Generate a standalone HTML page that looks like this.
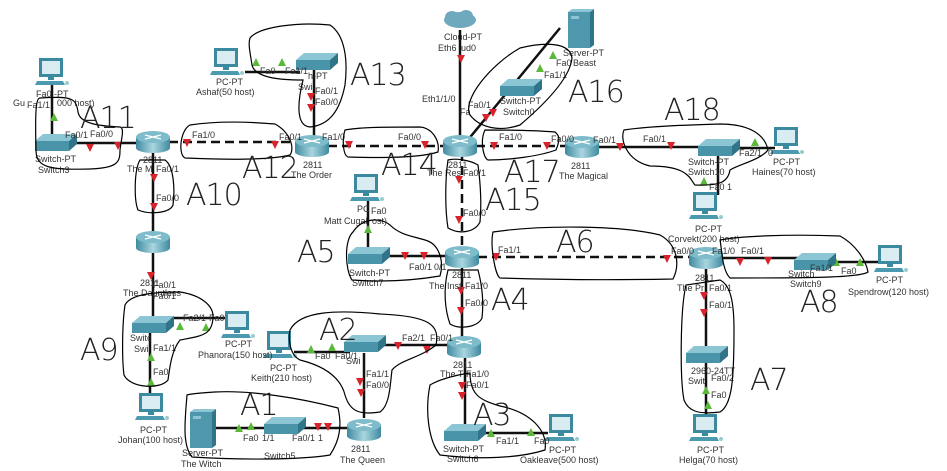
<!DOCTYPE html>
<html><head><meta charset="utf-8"><style>
html,body{margin:0;padding:0;background:#fff;}
svg{display:block}
text{font-family:"Liberation Sans",sans-serif;font-size:9px;fill:#333}
.a{font-size:30px;fill:#000;font-weight:200;font-family:"DejaVu Sans","Liberation Sans",sans-serif;letter-spacing:-1px}
.l{stroke:#111;stroke-width:2.5;fill:none}
.d{stroke:#111;stroke-width:2.5;fill:none;stroke-dasharray:9,5}
.h{stroke:#000;stroke-width:1.2;fill:none}
</style></head><body>
<svg width="947" height="471" viewBox="0 0 947 471" xmlns="http://www.w3.org/2000/svg">
<defs>
<linearGradient id="rg" x1="0" x2="1"><stop offset="0" stop-color="#3f8aa0"/><stop offset=".5" stop-color="#a9d6e0"/><stop offset="1" stop-color="#3f8aa0"/></linearGradient>
<g id="rt">
<rect x="-17" y="-5" width="34" height="11" fill="url(#rg)"/>
<ellipse cx="0" cy="6" rx="17" ry="5" fill="url(#rg)"/>
<ellipse cx="0" cy="-5" rx="17" ry="6" fill="#7fbccb"/>
<path d="M-8,-7 L8,-3 M8,-7 L-8,-3" stroke="#fff" stroke-width="1.3"/>
</g>
<g id="sw">
<polygon points="-20,-2 -12,-9 22,-9 14,-2" fill="#8cc6d4"/>
<rect x="-20" y="-2" width="34" height="10" fill="#4a94aa"/>
<polygon points="14,-2 22,-9 22,1 14,8" fill="#2f7489"/>
</g>
<g id="pc">
<rect x="-13" y="-14" width="24" height="19" fill="#3c8aa0"/>
<rect x="-10" y="-11" width="18" height="13" fill="#d9ecf2"/>
<rect x="-4" y="5" width="6" height="3" fill="#3c8aa0"/>
<polygon points="-15,9 11,9 13,13 -17,13" fill="#4c9ab0"/>
<circle cx="15" cy="11" r="2" fill="#9cc" />
</g>
<g id="sv">
<rect x="-12" y="-18" width="22" height="36" fill="#4f97ad"/>
<polygon points="10,-18 14,-21 14,15 10,18" fill="#2f7489"/>
<polygon points="-12,-18 -8,-21 14,-21 10,-18" fill="#8cc6d4"/>
<rect x="-9" y="-14" width="8" height="3" fill="#8cc6d4"/>
</g>
<polygon id="rd" points="-4,-4 4,-4 0,4" fill="#d8232a"/>
<polygon id="gu" points="-4,4 4,4 0,-4" fill="#5cb83a"/>
</defs>

<path class="l" d="M53,143 H137 M52,85 V137 M314,62 V140 M245,72 H300 M460,30 V140 M467,141 L560,28 M598,147 H700 M718,148 H775 M718,155 V195 M153,147 V238 M153,248 V320 M150,330 V400 M170,318 H225 M294,352 H350 M380,345 H448 M364,353 V418 M215,428 H268 M300,428 H348 M462,263 V340 M465,353 V430 M480,433 H548 M381,256 H445 M368,247 V200 M706,264 V350 M706,362 V420 M722,258 H800 M826,262 H878"/>
<path class="d" d="M169,142 H296 M328,146 H444 M476,146 H566 M462,152 V252 M478,257 H690"/>

<use href="#rd" x="90" y="148"/><use href="#rd" x="118" y="146"/>
<use href="#gu" x="54" y="117"/>
<use href="#rd" x="187" y="143"/><use href="#rd" x="275" y="145"/>
<use href="#gu" x="256" y="62"/><use href="#gu" x="282" y="62"/>
<use href="#rd" x="311" y="97"/><use href="#rd" x="311" y="108"/>
<use href="#rd" x="349" y="145"/><use href="#rd" x="425" y="145"/>
<use href="#rd" x="461" y="59"/>
<use href="#rd" x="486" y="118"/><use href="#rd" x="493" y="113"/>
<use href="#gu" x="540" y="68"/><use href="#gu" x="553" y="55"/>
<use href="#rd" x="494" y="146"/><use href="#rd" x="547" y="146"/>
<use href="#rd" x="620" y="147"/><use href="#rd" x="671" y="146"/>
<use href="#gu" x="734" y="144"/><use href="#gu" x="755" y="142"/>
<use href="#gu" x="704" y="181"/>
<use href="#rd" x="459" y="180"/><use href="#rd" x="459" y="220"/>
<use href="#rd" x="154" y="178"/><use href="#rd" x="154" y="207"/>
<use href="#rd" x="151" y="276"/>
<use href="#gu" x="180" y="326"/><use href="#gu" x="206" y="327"/>
<use href="#gu" x="151" y="357"/><use href="#gu" x="151" y="382"/>
<use href="#gu" x="311" y="349"/><use href="#gu" x="332" y="347"/>
<use href="#rd" x="398" y="346"/><use href="#rd" x="427" y="350"/>
<use href="#rd" x="360" y="382"/><use href="#rd" x="361" y="393"/>
<use href="#gu" x="239" y="428"/><use href="#gu" x="251" y="426"/>
<use href="#rd" x="318" y="427"/><use href="#rd" x="328" y="427"/>
<use href="#rd" x="461" y="291"/><use href="#rd" x="461" y="311"/>
<use href="#rd" x="462" y="386"/><use href="#rd" x="462" y="396"/>
<use href="#gu" x="491" y="433"/><use href="#gu" x="531" y="432"/>
<use href="#rd" x="405" y="256"/><use href="#rd" x="424" y="256"/>
<use href="#gu" x="368" y="229"/>
<use href="#rd" x="496" y="257"/><use href="#rd" x="667" y="259"/>
<use href="#rd" x="740" y="262"/><use href="#rd" x="768" y="261"/>
<use href="#gu" x="836" y="262"/><use href="#gu" x="860" y="262"/>
<use href="#rd" x="704" y="296"/><use href="#rd" x="704" y="313"/>
<use href="#gu" x="706" y="390"/><use href="#gu" x="708" y="405"/>

<use href="#rt" x="153" y="142"/><use href="#rt" x="312" y="146"/><use href="#rt" x="460" y="146"/>
<use href="#rt" x="582" y="147"/><use href="#rt" x="153" y="242"/><use href="#rt" x="462" y="257"/>
<use href="#rt" x="706" y="258"/><use href="#rt" x="464" y="347"/><use href="#rt" x="364" y="430"/>
<use href="#sw" x="55" y="143"/><use href="#sw" x="316" y="62"/><use href="#sw" x="520" y="88"/>
<use href="#sw" x="718" y="148"/><use href="#sw" x="368" y="256"/><use href="#sw" x="814" y="262"/>
<use href="#sw" x="152" y="325"/><use href="#sw" x="364" y="344"/><use href="#sw" x="284" y="426"/>
<use href="#sw" x="464" y="433"/><use href="#sw" x="706" y="355"/>
<use href="#pc" x="52" y="72"/><use href="#pc" x="227" y="62"/><use href="#pc" x="367" y="188"/>
<use href="#pc" x="787" y="141"/><use href="#pc" x="706" y="206"/><use href="#pc" x="891" y="259"/>
<use href="#pc" x="238" y="325"/><use href="#pc" x="280" y="345"/><use href="#pc" x="152" y="407"/>
<use href="#pc" x="562" y="428"/><use href="#pc" x="706" y="428"/>
<use href="#sv" x="580" y="30"/><use href="#sv" x="202" y="430"/>
<g fill="#6fa9bd"><ellipse cx="460" cy="20" rx="16" ry="8"/><ellipse cx="452" cy="17" rx="7" ry="6"/><ellipse cx="466" cy="16" rx="7" ry="6"/></g>

<text x="36" y="97">Fa0 -PT</text><text x="13" y="106">Gu</text><text x="27" y="108">Fa1/1</text><text x="57" y="106">000 host)</text>
<text x="65" y="138">Fa0/1</text><text x="90" y="137">Fa0/0</text>
<text x="35" y="162">Switch-PT</text><text x="38" y="173">Switch3</text>
<text x="143" y="163">2811</text><text x="127" y="172">The M</text><text x="156" y="172">Fa0/1</text>
<text x="156" y="201">Fa0/0</text>
<text x="192" y="138">Fa1/0</text><text x="279" y="140">Fa0/1</text>
<text x="216" y="85">PC-PT</text><text x="196" y="95">Ashaf(50 host)</text>
<text x="260" y="74">Fa0</text><text x="285" y="74">Fa1/1</text><text x="308" y="79">h-PT</text>
<text x="298" y="90">Swi</text><text x="315" y="94">Fa0/1</text><text x="315" y="105">Fa0/0</text>
<text x="322" y="140">Fa1/0</text><text x="303" y="168">2811</text><text x="291" y="178">The Order</text>
<text x="398" y="140">Fa0/0</text>
<text x="444" y="40">Cloud-PT</text><text x="438" y="51">Eth6</text><text x="461" y="51">ud0</text>
<text x="422" y="102">Eth1/1/0</text><text x="468" y="108">Fa0/1</text><text x="460" y="115">Fa</text>
<text x="500" y="104">Switch-PT</text><text x="503" y="115">Switch0</text>
<text x="563" y="56">Server-PT</text><text x="556" y="66">Fa0</text><text x="573" y="66">Beast</text><text x="544" y="78">Fa1/1</text>
<text x="499" y="140">Fa1/0</text><text x="551" y="142">Fa0/0</text><text x="593" y="143">Fa0/1</text>
<text x="448" y="168">2811</text><text x="427" y="176">The Res</text><text x="463" y="176">Fa0/1</text>
<text x="571" y="169">2811</text><text x="559" y="179">The Magical</text>
<text x="643" y="142">Fa0/1</text><text x="739" y="156">Fa2/1</text><text x="768" y="156">0</text>
<text x="688" y="165">Switch-PT</text><text x="688" y="175">Switch10</text>
<text x="773" y="165">PC-PT</text><text x="752" y="175">Haines(70 host)</text>
<text x="709" y="190">Fa0 1</text>
<text x="463" y="216">Fa0/0</text>
<text x="695" y="232">PC-PT</text><text x="668" y="242">Corvekt(200 host)</text>
<text x="357" y="212">PC</text><text x="371" y="214">Fa0</text><text x="324" y="224">Matt Cugal</text><text x="372" y="224">ost)</text>
<text x="349" y="276">Switch-PT</text><text x="352" y="286">Switch7</text>
<text x="409" y="270">Fa0/1</text><text x="434" y="270">0/1</text>
<text x="498" y="253">Fa1/1</text>
<text x="452" y="278">2811</text><text x="429" y="289">The Inst</text><text x="465" y="289">Fa1/0</text>
<text x="465" y="306">Fa0/0</text>
<text x="671" y="254">Fa0/0</text><text x="712" y="254">Fa1/0</text><text x="741" y="254">Fa0/1</text>
<text x="695" y="281">2811</text><text x="677" y="291">The Pr</text><text x="709" y="291">Fa0/1</text>
<text x="709" y="308">Fa0/1</text>
<text x="788" y="277">Switch</text><text x="810" y="271">Fa1/1</text><text x="841" y="274">Fa0</text>
<text x="790" y="287">Switch9</text><text x="876" y="283">PC-PT</text><text x="848" y="295">Spendrow(120 host)</text>
<text x="140" y="286">2811</text><text x="123" y="296">The Dauntless</text>
<text x="153" y="288">Fa0/1</text><text x="153" y="299">Fa0/1</text>
<text x="183" y="321">Fa2/1</text><text x="209" y="321">Fa0</text>
<text x="130" y="341">Switc</text><text x="134" y="352">Swi</text><text x="153" y="351">Fa1/1</text>
<text x="225" y="347">PC-PT</text><text x="198" y="358">Phanora(150 host)</text>
<text x="153" y="375">Fa0</text>
<text x="140" y="433">PC-PT</text><text x="118" y="443">Johan(100 host)</text>
<text x="270" y="371">PC-PT</text><text x="251" y="381">Keith(210 host)</text>
<text x="315" y="359">Fa0</text><text x="335" y="359">Fa0/1</text><text x="346" y="364">Swi</text>
<text x="366" y="377">Fa1/1</text><text x="366" y="388">Fa0/0</text>
<text x="402" y="341">Fa2/1</text><text x="430" y="341">Fa0/1</text>
<text x="453" y="368">2811</text><text x="440" y="377">The T</text><text x="466" y="377">Fa1/0</text><text x="466" y="388">Fa0/1</text>
<text x="243" y="441">Fa0</text><text x="262" y="441">1/1</text><text x="292" y="441">Fa0/1</text><text x="318" y="441">1</text>
<text x="182" y="456">Server-PT</text><text x="181" y="467">The Witch</text><text x="264" y="459">Switch5</text>
<text x="351" y="452">2811</text><text x="340" y="463">The Queen</text>
<text x="443" y="452">Switch-PT</text><text x="447" y="462">Switch6</text>
<text x="496" y="444">Fa1/1</text><text x="534" y="444">Fa0</text>
<text x="549" y="453">PC-PT</text><text x="520" y="463">Oakleave(500 host)</text>
<text x="691" y="374">2960-24TT</text><text x="688" y="384">Swit</text><text x="711" y="381">Fa0/2</text>
<text x="711" y="398">Fa0</text><text x="697" y="453">PC-PT</text><text x="679" y="463">Helga(70 host)</text>

<g class="h">
<path d="M40,98 C36,98 35,110 36,150 C36,168 50,170 90,169 C118,168 120,162 120,150 C121,140 125,128 120,127 C100,126 80,124 78,112 C76,98 72,96 40,98Z"/>
<path d="M190,125 C180,130 178,155 185,158 C230,160 270,160 290,155 C295,148 290,132 275,124 C240,121 210,122 190,125Z"/>
<path d="M250,38 C260,26 300,22 330,25 C345,35 348,60 345,85 C340,110 330,125 310,127 C295,126 298,100 303,80 C280,80 255,78 252,65 C250,52 248,44 250,38Z"/>
<path d="M140,160 C134,170 134,200 138,210 C150,215 170,213 173,205 C175,190 174,166 165,160 Z"/>
<path d="M345,130 C342,140 343,155 348,157 C380,158 420,158 438,152 C440,140 432,128 420,127 C390,127 360,127 345,130Z"/>
<path d="M448,160 C445,180 445,210 448,228 C460,235 475,232 480,222 C482,200 480,180 478,165 C470,160 455,158 448,160Z"/>
<path d="M485,130 C480,140 483,158 488,160 C510,160 540,156 556,150 C560,140 560,136 555,132 C530,130 505,130 485,130Z"/>
<path d="M470,115 C462,100 490,65 520,48 C545,42 570,42 572,58 C570,80 540,108 520,125 C500,132 480,128 470,115Z"/>
<path d="M624,130 C620,138 625,160 650,166 C690,166 690,180 695,185 C720,186 728,182 730,170 C740,164 760,160 768,150 C765,135 750,124 720,124 C690,125 650,126 624,130Z"/>
<path d="M353,232 C344,240 345,270 352,280 C380,282 410,281 440,276 C444,262 440,244 425,240 C412,236 400,235 390,225 C380,217 362,218 353,232Z"/>
<path d="M448,270 C443,290 445,310 450,324 C460,330 478,327 482,318 C484,300 482,285 478,270 Z"/>
<path d="M493,232 C490,245 495,275 500,278 C560,280 620,280 673,279 C680,265 678,245 660,235 C620,225 540,225 493,232Z"/>
<path d="M720,240 C740,236 790,234 840,236 C855,244 866,260 868,272 C860,278 800,278 730,278 C722,270 722,250 720,240Z"/>
<path d="M686,285 C680,310 680,380 684,400 C688,410 696,415 720,412 C732,405 734,380 734,330 C734,300 730,285 720,280 Z"/>
<path d="M125,305 C122,325 122,360 124,375 C130,388 160,390 168,380 C170,365 172,350 180,340 C200,336 212,336 213,318 C214,305 200,295 180,292 C150,292 130,295 125,305Z"/>
<path d="M290,330 C300,310 340,310 380,314 C430,316 440,325 436,345 C420,358 400,360 392,370 C390,385 390,405 380,412 C360,415 350,412 345,395 C340,375 320,365 300,360 C290,355 288,340 290,330Z"/>
<path d="M187,395 C185,420 182,445 192,457 C240,460 300,460 330,455 C340,440 342,425 338,408 C300,398 250,390 215,392 C200,393 190,394 187,395Z"/>
<path d="M430,385 C425,410 428,440 440,455 C480,460 520,458 545,450 C548,430 530,412 500,406 C480,400 470,395 470,373 C455,375 438,380 430,385Z"/>
</g>
<g style="fill-opacity:1">
<text class="a" x="80" y="128" style="fill:#222">A11</text>
<text class="a" x="242" y="178" style="fill:#222">A12</text>
<text class="a" x="350" y="85" style="fill:#222">A13</text>
<text class="a" x="381" y="175" style="fill:#222">A14</text>
<text class="a" x="485" y="210" style="fill:#222">A15</text>
<text class="a" x="568" y="102" style="fill:#222">A16</text>
<text class="a" x="504" y="182" style="fill:#222">A17</text>
<text class="a" x="664" y="120" style="fill:#222">A18</text>
<text class="a" x="186" y="205" style="fill:#222">A10</text>
<text class="a" x="297" y="262" style="fill:#222">A5</text>
<text class="a" x="556" y="252" style="fill:#222">A6</text>
<text class="a" x="491" y="310" style="fill:#222">A4</text>
<text class="a" x="319" y="340" style="fill:#222">A2</text>
<text class="a" x="80" y="360" style="fill:#222">A9</text>
<text class="a" x="240" y="415" style="fill:#222">A1</text>
<text class="a" x="473" y="425" style="fill:#222">A3</text>
<text class="a" x="750" y="390" style="fill:#222">A7</text>
<text class="a" x="800" y="312" style="fill:#222">A8</text>
</g>
</svg>
</body></html>
